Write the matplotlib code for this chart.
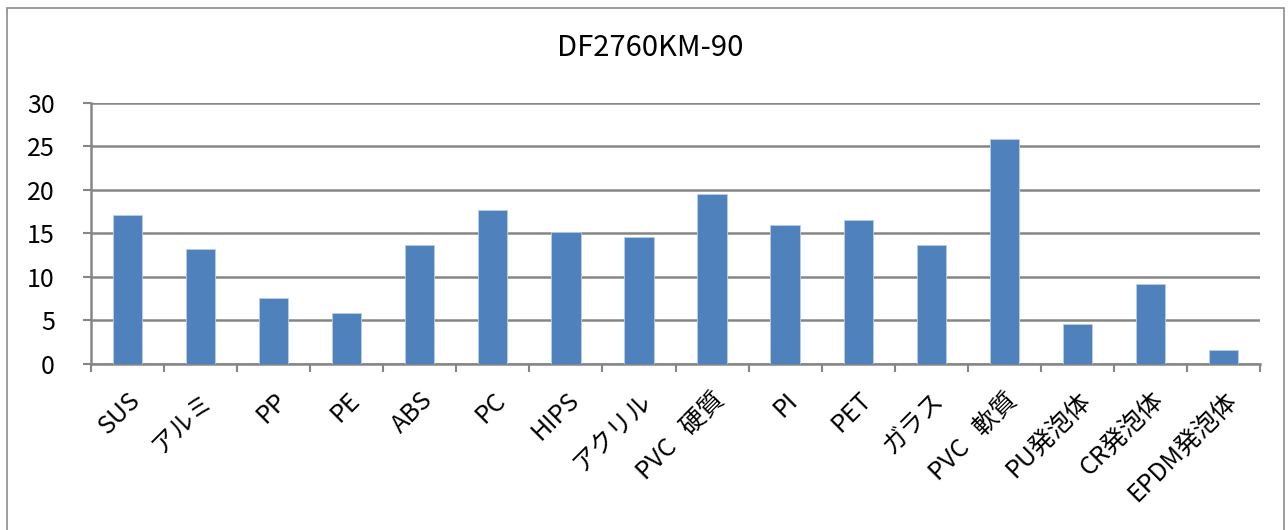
import matplotlib.pyplot as plt
from matplotlib.patches import Rectangle

plt.rcParams['font.family'] = ['Noto Sans CJK JP', 'DejaVu Sans']

# データ
categories = ['SUS', 'アルミ', 'PP', 'PE', 'ABS', 'PC', 'HIPS', 'アクリル',
              'PVC   硬質', 'PI', 'PET', 'ガラス', 'PVC   軟質', 'PU発泡体',
              'CR発泡体', 'EPDM発泡体']
values = [17.1, 13.2, 7.6, 5.8, 13.65, 17.7, 15.1, 14.6,
          19.56, 15.9, 16.5, 13.6, 25.9, 4.6, 9.1, 1.5]
yticks = [0, 5, 10, 15, 20, 25, 30]

fig = plt.figure(figsize=(12.88, 5.30), dpi=100)
ax = fig.add_axes([91 / 1288, 1 - 363.5 / 530, 1169 / 1288, 260.5 / 530])

# 外枠
fig.patches.append(Rectangle((7 / 1288, -0.1), 1277 / 1288, 1.1 - 8 / 530,
                             transform=fig.transFigure, fill=False,
                             edgecolor='#8c8c8c', linewidth=1.2))

x = list(range(len(categories)))
ax.bar(x, values, width=0.4, color='#4F81BD', edgecolor='#b9cde5',
       linewidth=0.6, zorder=3)

ax.set_xlim(-0.5, len(categories) - 0.5)
ax.set_ylim(0, 30)
ax.set_yticks(yticks)
ax.set_yticklabels([str(v) for v in yticks], fontsize=18)
ax.yaxis.grid(True, color='#868686', linewidth=1.8, zorder=0)

# x目盛り: カテゴリ境界にティック
ax.set_xticks([i - 0.5 for i in range(len(categories) + 1)])
ax.set_xticklabels([])
ax.set_xticks(x, minor=True)
ax.set_xticklabels(categories, minor=True, rotation=45, ha='right',
                   rotation_mode='anchor', fontsize=18)
ax.tick_params(axis='x', which='minor', length=0, pad=17)
ax.tick_params(axis='x', which='major', length=6, width=1.5, color='#868686')
ax.tick_params(axis='y', length=6, width=1.5, color='#868686', pad=20)

for s in ['top', 'right']:
    ax.spines[s].set_visible(False)
for s in ['left', 'bottom']:
    ax.spines[s].set_color('#868686')
    ax.spines[s].set_linewidth(1.8)

fig.text(650 / 1288, 1 - 48 / 530, 'DF2760KM-90', ha='center', va='center',
         fontsize=21)

fig.savefig('out.png', dpi=100)
